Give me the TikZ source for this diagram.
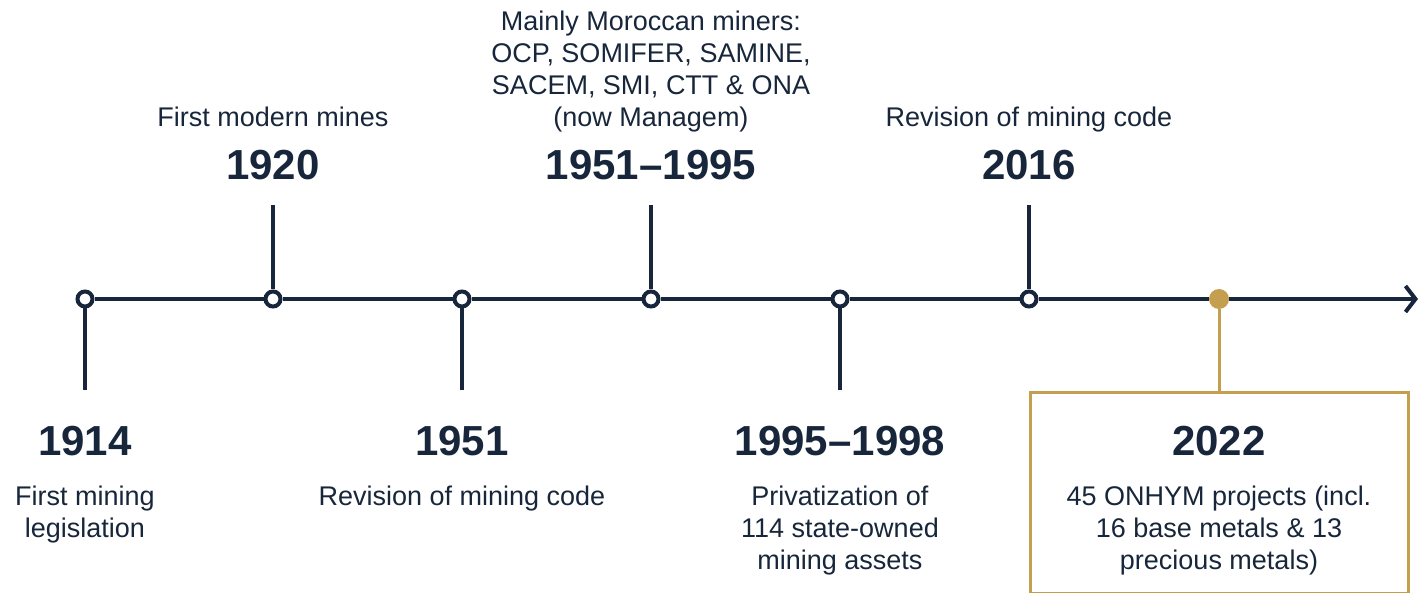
\documentclass[tikz,border=0pt]{standalone}
\usepackage{fontspec}
\setmainfont{Liberation Sans}
\usetikzlibrary{arrows.meta,positioning}
\definecolor{navy}{HTML}{17263A}
\definecolor{gold}{HTML}{C49F50}

\begin{document}
\begin{tikzpicture}[x=0.5pt,y=-0.5pt,
        axisline/.style={navy,line width=2pt},
        tickline/.style={navy,line width=1.75pt},
        ring/.style={circle,draw=navy,fill=white,line width=2pt,inner sep=0pt,minimum size=7.5pt},
        year/.style={navy,font=\fontsize{21}{25}\selectfont\bfseries,anchor=base,inner sep=0pt},
        note/.style={navy,font=\fontsize{13.5}{16}\selectfont,align=center,anchor=base,inner sep=0pt}]
            \useasboundingbox (0,0) rectangle (1420,593);
            % points on the time line
            \node[ring] (r1914) at (85,299) {};
            \node[ring] (r1920) at (273,299) {};
            \node[ring] (r1951) at (462,299) {};
            \node[ring] (r1995) at (651,299) {};
            \node[ring] (r1998) at (840,299) {};
            \node[ring] (r2016) at (1029,299) {};
            \node[circle,fill=gold,inner sep=0pt,minimum size=10pt] (r2022) at (1219,299) {};
            \coordinate (tip) at (1418,299);
            \foreach \a/\b in {r1914/r1920,r1920/r1951,r1951/r1995,r1995/r1998,r1998/r2016,r2016/r2022}
                \draw[axisline] (\a) -- (\b);
            \draw[axisline,-{Straight Barb[length=5pt,width=13pt]}] (r2022) -- (tip);
            % ticks
            \coordinate (t1914) at (85,390);
            \coordinate (t1920) at (273,205);
            \coordinate (t1951) at (462,390);
            \coordinate (t1995) at (651,205);
            \coordinate (t1998) at (840,390);
            \coordinate (t2016) at (1029,205);
            \foreach \p in {1914,1920,1951,1995,1998,2016}
                \draw[tickline] (r\p) -- (t\p);
            % box for 2022
            \node[draw=gold,line width=1.5pt,minimum width=189pt,minimum height=100pt,anchor=north,inner sep=0pt] (box) at (1219,391.5) {};
            \draw[gold,line width=1.5pt] (r2022) -- (box);
            % years
            \node[year] (y1914) at (85,455) {1914};
            \node[year] (y1920) at (273,180) {1920};
            \node[year] (y1951) at (462,455) {1951};
            \node[year] (y1995) at (651,180) {1951--1995};
            \node[year] (y1998) at (840,455) {1995--1998};
            \node[year] (y2016) at (1029,180) {2016};
            \node[year] (y2022) at (1219,455) {2022};
            % texts (base = last line)
            \node[note] (n1914) at (85,537) {First mining\\legislation};
            \node[note] (n1920) at (273,127) {First modern mines};
            \node[note] (n1951) at (462,505) {Revision of mining code};
            \node[note] (n1995) at (651,127) {Mainly Moroccan miners:\\OCP, SOMIFER, SAMINE,\\SACEM, SMI, CTT \& ONA\\(now Managem)};
            \node[note] (n1998) at (840,569) {Privatization of\\114 state-owned\\mining assets};
            \node[note] (n2016) at (1029,127) {Revision of mining code};
            \node[note] (n2022) at (1219,569) {45 ONHYM projects (incl.\\16 base metals \& 13\\precious metals)};
\end{tikzpicture}
\end{document}
